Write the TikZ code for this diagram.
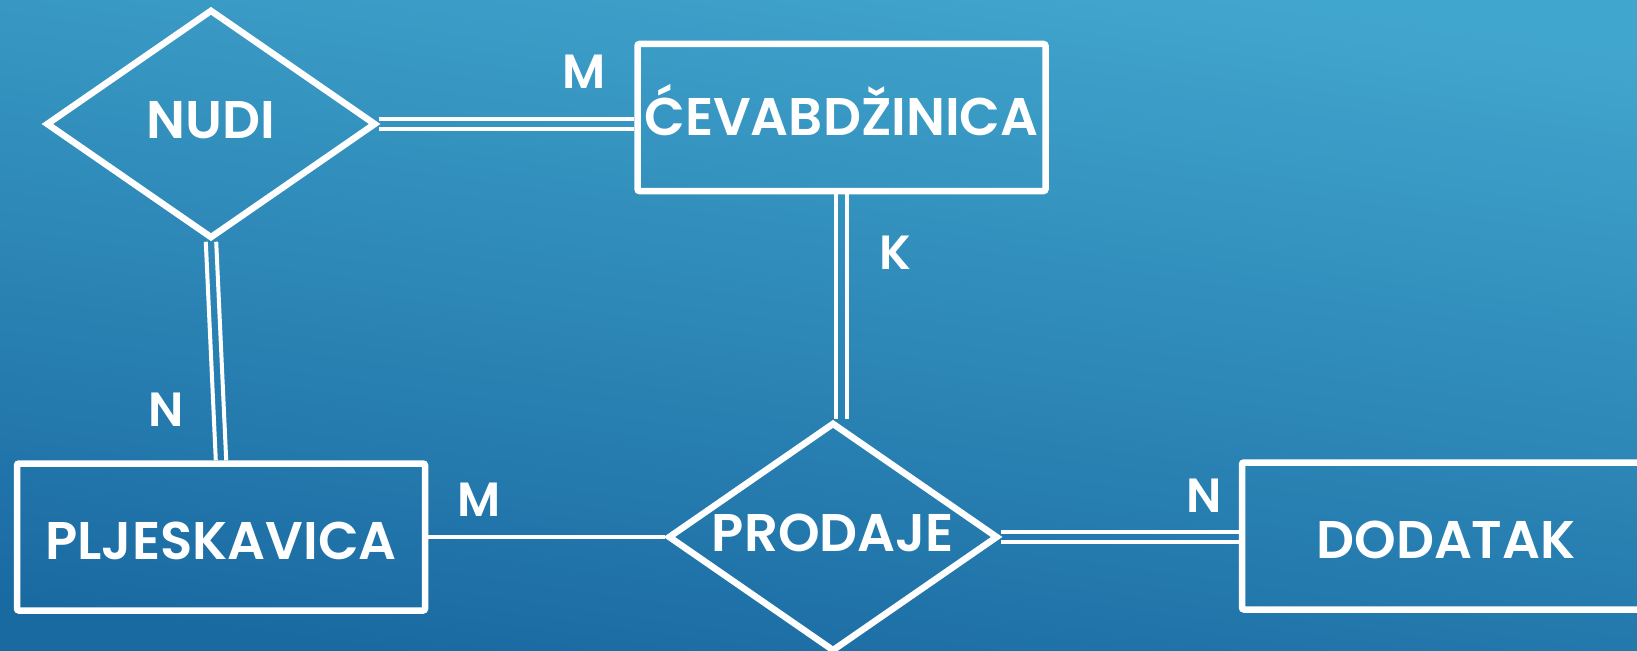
\documentclass[tikz,border=0pt]{standalone}
\usepackage{fontspec}
\setmainfont{Poppins}[BoldFont={Poppins SemiBold}]
\usetikzlibrary{shapes.geometric}

\definecolor{bgtop}{HTML}{41A6CD}
\definecolor{bgbottom}{HTML}{1A6AA2}

\tikzset{
  entity/.style={draw=white, line width=6.5pt, rounded corners=2pt,
    minimum width=408pt, minimum height=147pt, inner sep=0pt,
    text=white, font=\fontsize{53}{53}\selectfont\bfseries,
    text height=45pt, text depth=0pt},
  relation/.style={diamond, aspect=1.43, draw=white, line width=6.5pt,
    minimum width=330pt, minimum height=229pt, inner sep=0pt,
    text=white, font=\fontsize{53}{53}\selectfont\bfseries,
    text height=29pt, text depth=0pt},
  card/.style={text=white, font=\fontsize{48}{48}\selectfont\bfseries},
  link/.style={draw=white, line width=4.5pt},
  dlink/.style={draw=white, line width=4pt},
}

\begin{document}
\begin{tikzpicture}[x=1pt, y=-1pt]
  % Background
  \clip (0,0) rectangle (1637,650);
  \shade[top color=bgtop, bottom color=bgbottom, shading angle=-8] (0,0) rectangle (1637,650);

  % Relationships
  \node[relation] (nudi) at (211,124) {NUDI};
  \node[relation] (prodaje) at (833,537) {PRODAJE};

  % Entities
  \node[entity, text height=36pt] (cev) at (841.5,117.5) {ĆEVABDŽINICA};
  \node[entity] (plj) at (221,537) {PLJESKAVICA};
  \node[entity] (dod) at (1446,536) {DODATAK};

  % Connections (double = total participation)
  \foreach \s in {-5.2,5.2} {
    \draw[dlink] ([yshift=\s pt]nudi.east) -- ([yshift=\s pt]nudi.east -| cev.west);
    \draw[dlink] ([xshift=\s pt]nudi.south) -- ([xshift=\s pt]plj.north);
    \draw[dlink] ([xshift=\s pt]cev.south) -- ([xshift=\s pt]cev.south |- prodaje.north);
    \draw[dlink] ([yshift=\s pt]prodaje.east) -- ([yshift=\s pt]prodaje.east -| dod.west);
  }
  \draw[link] (plj.east) -- (plj.east -| prodaje.west);

  % Cardinalities
  \node[card] (m1) at (584,72) {M};
  \node[card] (k1) at (895,253) {K};
  \node[card] (n1) at (166,410) {N};
  \node[card] (m2) at (479,500) {M};
  \node[card] (n2) at (1204,496) {N};
\end{tikzpicture}
\end{document}
